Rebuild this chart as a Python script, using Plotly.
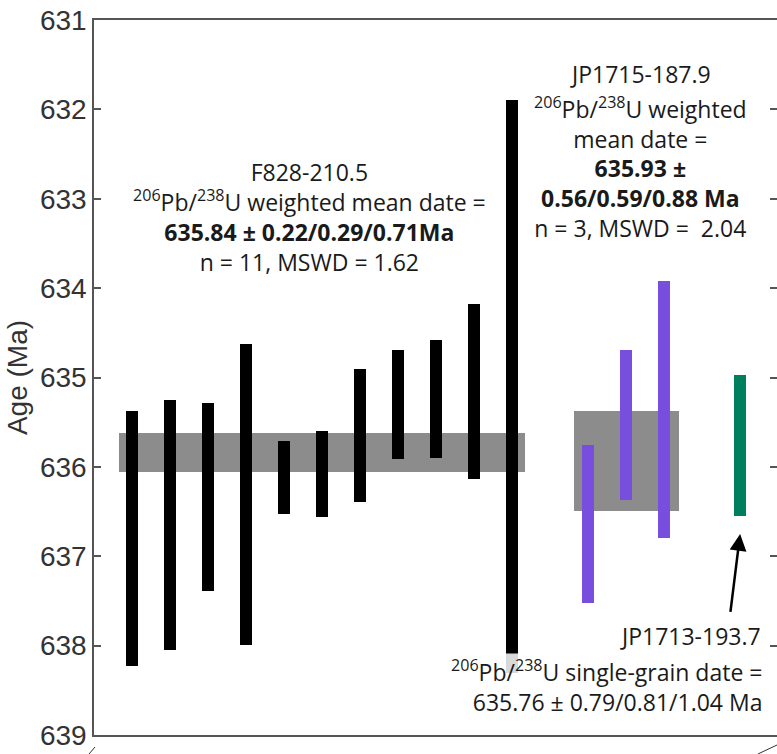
import plotly.graph_objects as go

# --- F828-210.5 single-grain 206Pb/238U dates (Ma) and 2-sigma uncertainties
f828_pos = [1, 2, 3, 4, 5, 6, 7, 8, 9, 10, 11]
f828_date = [636.80, 636.65, 636.34, 636.31, 636.12, 636.08, 635.65, 635.30, 635.24, 635.16, 635.10]
f828_err = [1.43, 1.40, 1.05, 1.68, 0.41, 0.48, 0.74, 0.61, 0.66, 0.98, 3.21]

# --- JP1715-187.9 single-grain dates
jp1715_pos = [13, 14, 15]
jp1715_date = [636.64, 635.53, 635.36]
jp1715_err = [0.88, 0.84, 1.44]

# --- JP1713-193.7 single-grain date
jp1713_pos = [17]
jp1713_date = [635.76]
jp1713_err = [0.79]

# --- weighted means (centre position, span in positions, mean, uncertainty)
wm_pos = [6.0, 14.01]
wm_span = [10.68, 2.76]
wm_mean = [635.84, 635.93]
wm_err = [0.22, 0.56]

y_ticks = [631, 632, 633, 634, 635, 636, 637, 638, 639]

TEXT = "#1a1a1a"
AXIS = "#555555"
ANN_FONT = dict(family="Open Sans", size=23, color=TEXT)


def bar_trace(pos, date, err, color, width):
    return go.Bar(
        x=pos,
        base=[d - e for d, e in zip(date, err)],
        y=[2 * e for e in err],
        width=width,
        marker=dict(color=color, line=dict(width=0)),
        showlegend=False,
        hoverinfo="skip",
    )


fig = go.Figure()
fig.add_trace(bar_trace(wm_pos, wm_mean, wm_err, "#8c8c8c", wm_span))
fig.add_trace(bar_trace(f828_pos, f828_date, f828_err, "#000000", 0.32))
fig.add_trace(bar_trace(jp1715_pos, jp1715_date, jp1715_err, "#774ede", 0.32))
fig.add_trace(bar_trace(jp1713_pos, jp1713_date, jp1713_err, "#007f5f", 0.32))
# carries the right-hand tick marks
fig.add_trace(go.Scatter(x=[], y=[], yaxis="y2", showlegend=False, hoverinfo="skip"))


def label(x, y, text, xanchor="center", **kw):
    fig.add_annotation(x=x, y=y, xref="x", yref="y", showarrow=False,
                       xanchor=xanchor, yanchor="middle", align=xanchor,
                       font=ANN_FONT, text=text, **kw)


label(5.68, 633.2,
      "F828-210.5<br><sup>206</sup>Pb/<sup>238</sup>U weighted mean date =<br>"
      "<b>635.84 ± 0.22/0.29/0.71Ma</b><br>n = 11, MSWD = 1.62")

label(14.37, 631.6, "JP1715-187.9")
label(14.37, 632.65,
      "<sup>206</sup>Pb/<sup>238</sup>U weighted<br>mean date =<br>"
      "<b>635.93 ±</b><br><b>0.56/0.59/0.88 Ma</b><br>n = 3, MSWD =  2.04")

label(17.6, 637.89, "JP1713-193.7", xanchor="right")
label(17.6, 638.45,
      "<sup>206</sup>Pb/<sup>238</sup>U single-grain date =<br>"
      "635.76 ± 0.79/0.81/1.04 Ma",
      xanchor="right", bgcolor="rgba(255,255,255,0.85)", borderpad=0)

# arrow pointing at the JP1713 grain
fig.add_annotation(
    x=17.0, y=636.75, ax=16.74, ay=637.64, xref="x", yref="y",
    axref="x", ayref="y", text="", showarrow=True,
    arrowhead=2, arrowsize=1.35, arrowwidth=2.5, arrowcolor="#000000",
)

# small panel-corner marks below the frame
for x0, y0, x1, y1 in [(-0.0073, -0.0266, 0.0015, -0.0168), (0.972, -0.0266, 1.0, -0.014)]:
    fig.add_shape(type="line", xref="paper", yref="paper", x0=x0, y0=y0, x1=x1, y1=y1,
                  line=dict(color="#333333", width=1))

fig.update_layout(
    width=777, height=754,
    margin=dict(l=94, r=0, t=20, b=19),
    paper_bgcolor="white", plot_bgcolor="white",
    barmode="overlay", bargap=0,
    xaxis=dict(range=[0, 17.97], showline=True, mirror=True, linecolor=AXIS, linewidth=1.5,
               ticks="", showticklabels=False, showgrid=False, zeroline=False),
    yaxis=dict(range=[639, 631], tickvals=y_ticks, ticks="inside", ticklen=7,
               tickwidth=1.5, tickcolor=AXIS, showline=True, linecolor=AXIS, linewidth=1.5,
               showgrid=False, zeroline=False,
               tickfont=dict(family="Liberation Sans", size=28, color="#333333"),
               title=dict(text="Age (Ma)", standoff=4,
                          font=dict(family="Liberation Sans", size=28, color="#333333"))),
    yaxis2=dict(range=[639, 631], tickvals=y_ticks, overlaying="y", side="right",
                ticks="inside", ticklen=7, tickwidth=1.5, tickcolor=AXIS,
                showticklabels=False, showline=False, showgrid=False, zeroline=False),
)

fig.write_html("out.html")
